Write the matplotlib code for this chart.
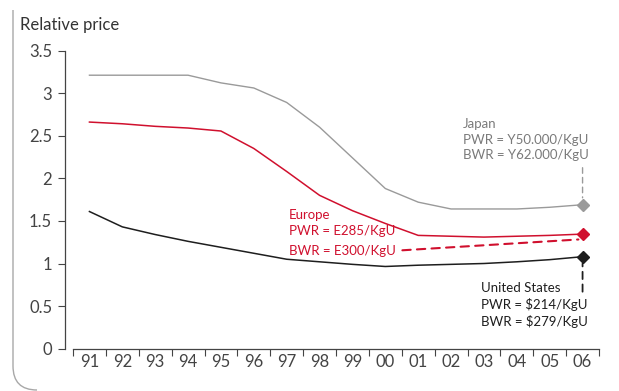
import matplotlib.pyplot as plt
from matplotlib.path import Path
from matplotlib.patches import PathPatch

years = ['91', '92', '93', '94', '95', '96', '97', '98', '99', '00', '01', '02', '03', '04', '05', '06']
japan = [3.21, 3.21, 3.21, 3.21, 3.12, 3.06, 2.89, 2.60, 2.24, 1.88, 1.72, 1.64, 1.64, 1.64, 1.66, 1.69]
europe = [2.66, 2.64, 2.61, 2.59, 2.555, 2.35, 2.08, 1.80, 1.62, 1.47, 1.33, 1.32, 1.31, 1.32, 1.33, 1.345]
us = [1.61, 1.43, 1.34, 1.26, 1.19, 1.12, 1.05, 1.02, 0.99, 0.965, 0.98, 0.99, 1.00, 1.02, 1.045, 1.08]

japan_label = "Japan\nPWR = Y50.000/KgU\nBWR = Y62.000/KgU"
europe_label = "Europe\nPWR = E285/KgU"
europe_bwr = "BWR = E300/KgU"
us_label = "United States\nPWR = $214/KgU\nBWR = $279/KgU"

c_japan = "#9a9a9a"
c_europe = "#d0102e"
c_us = "#1e1e1e"
c_axis = "#444444"

plt.rcParams['font.family'] = ['Lato', 'DejaVu Sans']

fig = plt.figure(figsize=(6.19, 3.91), dpi=100)
ax = fig.add_axes([73 / 619, 42.3 / 391, 526 / 619, 298.2 / 391])

x = list(range(len(years)))
ax.plot(x, japan, color=c_japan, lw=1.0)
ax.plot(x, europe, color=c_europe, lw=1.1)
ax.plot(x, us, color=c_us, lw=1.1)

ax.plot(x[-1], japan[-1], marker='D', ms=6.5, color=c_japan)
ax.plot(x[-1], europe[-1], marker='D', ms=6.5, color=c_europe)
ax.plot(x[-1], us[-1], marker='D', ms=6.5, color=c_us)

ax.set_xlim(-0.5, len(years) - 0.5)
ax.set_ylim(0, 3.5)

# ticks on category edges, labels centered
ax.set_xticks([i - 0.5 for i in range(len(years) + 1)])
ax.set_xticklabels([])
ax.set_xticks(x, minor=True)
ax.set_xticklabels(years, minor=True)
ax.tick_params(axis='x', which='major', direction='out', length=5, width=0.8, color=c_axis)
ax.tick_params(axis='x', which='minor', length=0, pad=4, labelsize=12, labelcolor=c_axis)

ax.set_yticks([0, 0.5, 1, 1.5, 2, 2.5, 3, 3.5])
ax.set_yticklabels(['0', '0.5', '1', '1.5', '2', '2.5', '3', '3.5'])
ax.tick_params(axis='y', direction='out', length=5, width=0.8, color=c_axis,
               pad=4, labelsize=12, labelcolor=c_axis)

for s in ['top', 'right']:
    ax.spines[s].set_visible(False)
ax.spines['left'].set_position(('outward', 6))
ax.spines['left'].set_color(c_axis)
ax.spines['bottom'].set_color(c_axis)
ax.spines['left'].set_linewidth(0.9)
ax.spines['bottom'].set_linewidth(0.9)

fig.text(20 / 619, 1 - 25 / 391, "Relative price", fontsize=12, color="#333333",
         ha='left', va='center')

# Japan
ax.annotate('', xy=(x[-1], japan[-1]), xytext=(0, 37), textcoords='offset pixels',
            arrowprops=dict(arrowstyle='-', color=c_japan, lw=1.0, ls=(0, (4, 3)),
                            shrinkA=0, shrinkB=5))
ax.annotate(japan_label, xy=(x[-1], japan[-1]), xytext=(-120, 65),
            textcoords='offset pixels', ha='left', va='center', fontsize=9.5,
            color="#7a7a7a", linespacing=1.35)

# Europe
ax.annotate(europe_label, xy=(x[-1], europe[-1]), xytext=(-294, 11),
            textcoords='offset pixels', ha='left', va='center', fontsize=9.5,
            color=c_europe, linespacing=1.45)
ax.annotate(europe_bwr, xy=(x[-1], europe[-1] - 0.06), xytext=(-294, -11.5),
            textcoords='offset pixels', ha='left', va='center', fontsize=9.5,
            color=c_europe,
            arrowprops=dict(arrowstyle='-', color=c_europe, lw=1.5, ls=(0, (4, 3)),
                            relpos=(1, 0.5), shrinkA=3, shrinkB=3))

# United States
ax.annotate('', xy=(x[-1], us[-1]), xytext=(0, -35), textcoords='offset pixels',
            arrowprops=dict(arrowstyle='-', color=c_us, lw=1.3, ls=(0, (4, 3)),
                            shrinkA=0, shrinkB=5))
ax.annotate(us_label, xy=(x[-1], us[-1]), xytext=(-102, -48),
            textcoords='offset pixels', ha='left', va='center', fontsize=9.5,
            color=c_us, linespacing=1.35)

# outer frame with rounded bottom-left corner
W, H = 619.0, 391.0
verts = [(13 / W, 1 - 10 / H), (13 / W, 1 - 366 / H),
         (13 / W, 1 - 390 / H), (37 / W, 1 - 390 / H)]
codes = [Path.MOVETO, Path.LINETO, Path.CURVE3, Path.CURVE3]
fig.add_artist(PathPatch(Path(verts, codes), transform=fig.transFigure,
                         fill=False, edgecolor="#a8a8a8", lw=1.0))

fig.savefig("out.png", dpi=100)
